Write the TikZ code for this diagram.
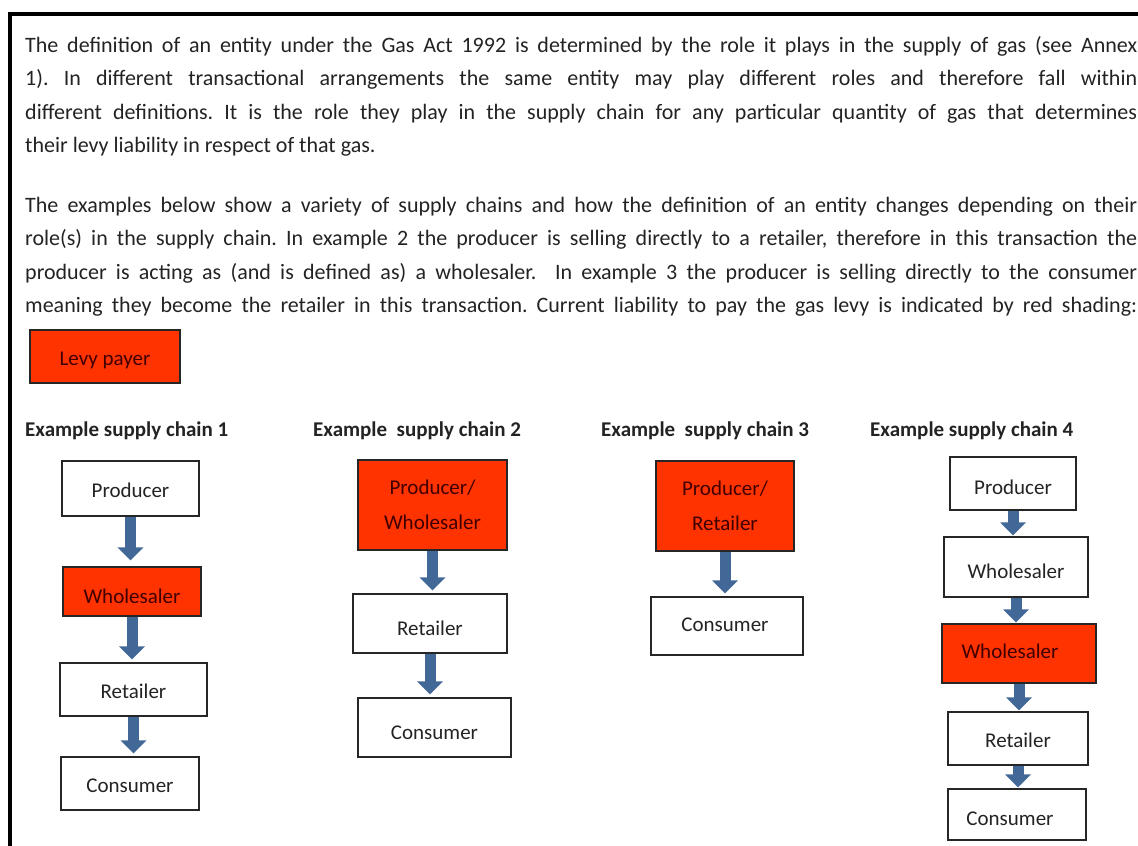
\documentclass[tikz,border=0pt]{standalone}
\usepackage{fontspec}
\setmainfont{Carlito}
\usetikzlibrary{arrows.meta}
\definecolor{levyred}{RGB}{255,51,0}
\definecolor{flowblue}{RGB}{66,104,152}
\definecolor{inktext}{RGB}{35,35,35}
\tikzset{
  rolebase/.style={draw=black!85,line width=1.3pt,inner sep=0pt,text=inktext,
    align=center,font=\fontsize{21}{35}\selectfont},
  role/.style={rolebase,text height=18pt,text depth=0pt},
  payer/.style={role,fill=levyred,text=black!75!red},
  payertwo/.style={rolebase,fill=levyred,text=black!75!red},
  flow/.style={draw=flowblue,line width=11pt,
    -{Triangle[length=13pt,width=25pt]},shorten >=3pt},
  chainhead/.style={anchor=west,inner sep=0pt,text=inktext,
    font=\fontsize{21}{24}\selectfont\bfseries},
  para/.style={anchor=north west,inner sep=0pt,text width=1112pt,
    align=justify,text=inktext,font=\fontsize{22}{33.5}\selectfont}
}
\begin{document}
\frenchspacing
\begin{tikzpicture}[x=1pt,y=-1pt]
\useasboundingbox (0,0) rectangle (1138,846);
% frame
\draw[line width=3.5pt] (10,870) |- (1170,14);
% text
\node[para] (intro) at (25,36) {The definition of an entity under the Gas Act 1992 is determined by the role it plays in the supply of gas (see Annex\linebreak
1). In different transactional arrangements the same entity may play different roles and therefore fall within\linebreak
different definitions. It is the role they play in the supply chain for any particular quantity of gas that determines\linebreak
their levy liability in respect of that gas.};
\node[para] (examples) at (25,197) {The examples below show a variety of supply chains and how the definition of an entity changes depending on their\linebreak
role(s) in the supply chain. In example 2 the producer is selling directly to a retailer, therefore in this transaction the\linebreak
producer is acting as (and is defined as) a wholesaler.\ \ In example 3 the producer is selling directly to the consumer\linebreak
meaning they become the retailer in this transaction. Current liability to pay the gas levy is indicated by red shading:\parfillskip=0pt\par};
% legend
\node[payer,minimum width=150pt,minimum height=53pt] (levy) at (105,356.5) {Levy payer};
% headings
\node[chainhead] (head1) at (25,431) {Example supply chain 1};
\node[chainhead] (head2) at (313,431) {Example\ \ supply chain 2};
\node[chainhead] (head3) at (601,431) {Example\ \ supply chain 3};
\node[chainhead] (head4) at (870,431) {Example supply chain 4};
% chain 1
\node[role,minimum width=137pt,minimum height=55pt] (prod1) at (130.5,488.5) {Producer};
\node[payer,minimum width=138pt,minimum height=49pt,text height=24pt] (whole1) at (132,591.5) {Wholesaler};
\node[role,minimum width=147pt,minimum height=53pt] (ret1) at (133.5,689.5) {Retailer};
\node[role,minimum width=138pt,minimum height=53pt] (cons1) at (130,783.5) {Consumer};
\draw[flow,shorten >=6pt] (prod1.south) -- (prod1.south |- whole1.north);
\draw[flow] (whole1.south) -- (whole1.south |- ret1.north);
\draw[flow] (ret1.south) -- (ret1.south |- cons1.north);
% chain 2
\node[payertwo,minimum width=149pt,minimum height=90pt] (prodw2) at (432.5,505) {Producer/\\Wholesaler};
\node[role,minimum width=154pt,minimum height=59pt,text height=24pt] (ret2) at (430,623.5) {Retailer};
\node[role,minimum width=153pt,minimum height=59pt,text height=24pt] (cons2) at (434.5,727.5) {Consumer};
\draw[flow] (prodw2.south) -- (prodw2.south |- ret2.north);
\draw[flow] (ret2.south) -- (ret2.south |- cons2.north);
% chain 3
\node[payertwo,minimum width=138pt,minimum height=90pt] (prodr3) at (725,506) {Producer/\\Retailer};
\node[role,minimum width=152pt,minimum height=58pt,text height=10pt] (cons3) at (727,626) {Consumer\hspace{4pt}};
\draw[flow] (prodr3.south) -- (prodr3.south |- cons3.north);
% chain 4
\node[role,minimum width=126pt,minimum height=53pt,text height=22pt] (prod4) at (1013,483.5) {Producer};
\node[role,minimum width=144pt,minimum height=60pt,text height=22pt] (whole4) at (1016,567) {Wholesaler};
\node[payer,minimum width=154pt,minimum height=59pt,text height=10pt] (whole4b) at (1019,653.5) {Wholesaler\hspace{18pt}};
\node[role,minimum width=140pt,minimum height=53pt] (ret4) at (1018,738.5) {Retailer};
\node[role,minimum width=138pt,minimum height=51pt,text height=22pt] (cons4) at (1017,814.5) {Consumer\hspace{14pt}};
\draw[flow,shorten >=1pt] (prod4.south) -- (prod4.south |- whole4.north);
\draw[flow,shorten >=1pt] (whole4.south) -- (whole4.south |- whole4b.north);
\draw[flow,shorten >=1pt] (whole4b.south) -- (whole4b.south |- ret4.north);
\draw[flow,shorten >=1pt] (ret4.south) -- (ret4.south |- cons4.north);
\end{tikzpicture}
\end{document}
